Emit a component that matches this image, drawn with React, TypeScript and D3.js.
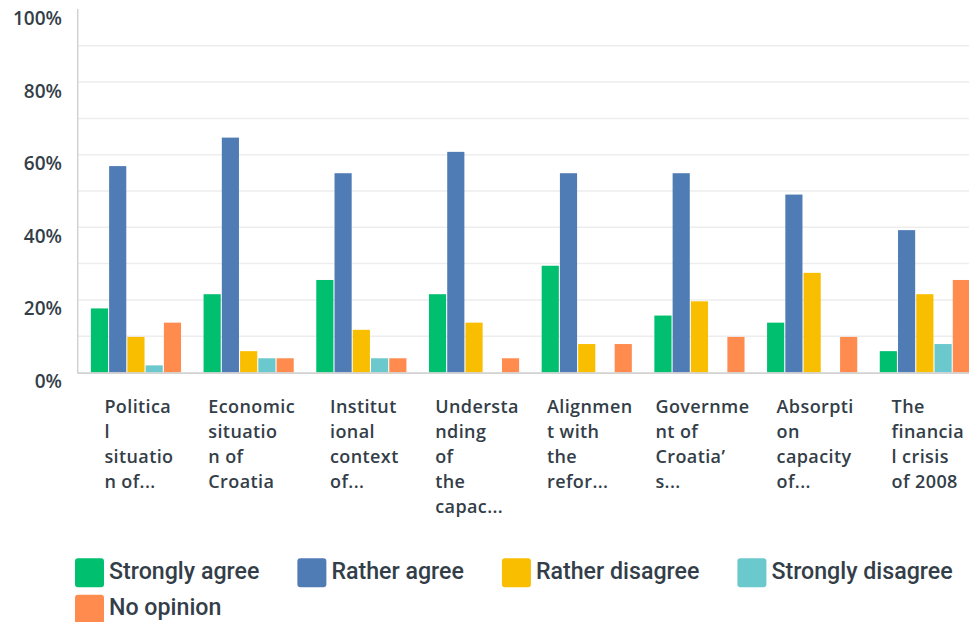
import React, { useEffect, useRef } from "react";
import * as d3 from "d3";

const categoryLines: string[][] = [
  ["Politica", "l", "situatio", "n of..."],
  ["Economic", "situatio", "n of", "Croatia"],
  ["Institut", "ional", "context", "of..."],
  ["Understa", "nding", "of", "the", "capac..."],
  ["Alignmen", "t with", "the", "refor..."],
  ["Governme", "nt of", "Croatia’", "s..."],
  ["Absorpti", "on", "capacity", "of..."],
  ["The", "financia", "l crisis", "of 2008"],
];

const seriesNames = ["Strongly agree", "Rather agree", "Rather disagree", "Strongly disagree", "No opinion"];
const seriesColors = ["#00bf6f", "#507cb6", "#f9be00", "#6bc8cd", "#ff8b4f"];

const stronglyAgree = [17.65, 21.57, 25.49, 21.57, 29.41, 15.69, 13.73, 5.88];
const ratherAgree = [56.86, 64.71, 54.9, 60.78, 54.9, 54.9, 49.02, 39.22];
const ratherDisagree = [9.8, 5.88, 11.76, 13.73, 7.84, 19.61, 27.45, 21.57];
const stronglyDisagree = [1.96, 3.92, 3.92, 0, 0, 0, 0, 7.84];
const noOpinion = [13.73, 3.92, 3.92, 3.92, 7.84, 9.8, 9.8, 25.49];

const seriesValues = [stronglyAgree, ratherAgree, ratherDisagree, stronglyDisagree, noOpinion];

const yTicks = [0, 20, 40, 60, 80, 100];
const gridTicks = [10, 20, 30, 40, 50, 60, 70, 80, 90];

const W = 969;
const H = 622;
const TEXT = "#333e48";

export default function App() {
  const ref = useRef<SVGSVGElement | null>(null);

  useEffect(() => {
    const svg = d3.select(ref.current);
    svg.selectAll("*").remove();

    const left = 77.7;
    const y = d3.scaleLinear().domain([0, 100]).range([372.5, 9.5]);
    const idx = categoryLines.map((_, i) => i);
    const x0 = d3.scaleBand<number>().domain(idx).range([79.6, 981.2]).paddingInner(0.2).paddingOuter(0.1);
    const x1 = d3.scaleBand<number>().domain(seriesNames.map((_, i) => i)).range([0, x0.bandwidth()]).paddingInner(0.06);

    svg.append("g")
      .selectAll("line")
      .data(gridTicks)
      .join("line")
      .attr("x1", left)
      .attr("x2", W)
      .attr("y1", (d) => y(d))
      .attr("y2", (d) => y(d))
      .attr("stroke", "#ededed")
      .attr("stroke-width", 1.5);

    const groups = svg.append("g")
      .selectAll("g")
      .data(idx)
      .join("g")
      .attr("transform", (i) => `translate(${x0(i)},0)`);

    groups.selectAll("rect")
      .data((i) => seriesValues.map((vals, s) => ({ s, v: vals[i] })))
      .join("rect")
      .attr("x", (d) => x1(d.s)!)
      .attr("width", x1.bandwidth())
      .attr("y", (d) => y(d.v))
      .attr("height", (d) => y(0) - y(d.v))
      .attr("fill", (d) => seriesColors[d.s]);

    svg.append("line")
      .attr("x1", left).attr("x2", left)
      .attr("y1", 9).attr("y2", 373.5)
      .attr("stroke", "#d2d2d2").attr("stroke-width", 1.5);
    svg.append("line")
      .attr("x1", left).attr("x2", W)
      .attr("y1", 373.2).attr("y2", 373.2)
      .attr("stroke", "#d2d2d2").attr("stroke-width", 1.8);

    svg.append("g")
      .selectAll("text")
      .data(yTicks)
      .join("text")
      .attr("x", 62)
      .attr("y", (d) => y(d) + 15.5)
      .attr("text-anchor", "end")
      .attr("font-family", "'Open Sans', sans-serif")
      .attr("font-weight", 600)
      .attr("font-size", 19)
      .attr("fill", TEXT)
      .text((d) => `${d}%`);

    idx.forEach((i) => {
      const g = svg.append("g");
      const texts = g.selectAll("text")
        .data(categoryLines[i])
        .join("text")
        .attr("x", 0)
        .attr("y", (_, k) => 413 + k * 25)
        .attr("font-family", "'Open Sans', sans-serif")
        .attr("font-weight", 600)
        .attr("font-size", 18)
        .attr("letter-spacing", 0.4)
        .attr("fill", TEXT)
        .text((d) => d);
      let maxW = 0;
      texts.each(function () {
        maxW = Math.max(maxW, (this as SVGTextElement).getComputedTextLength());
      });
      const cx = x0(i)! + x0.bandwidth() / 2 + 3;
      g.attr("transform", `translate(${cx - maxW / 2},0)`);
    });

    const lg = svg.append("g");
    let lx = 75;
    let ly = 558.3;
    seriesNames.forEach((name, s) => {
      const item = lg.append("g");
      item.append("rect")
        .attr("width", 29).attr("height", 29).attr("rx", 3)
        .attr("fill", seriesColors[s]);
      const t = item.append("text")
        .attr("x", 34)
        .attr("y", 20.5)
        .attr("font-family", "Roboto, sans-serif")
        .attr("font-weight", 500)
        .attr("font-size", 23.2)
        .attr("fill", TEXT)
        .text(name);
      const tw = (t.node() as SVGTextElement).getComputedTextLength();
      const itemW = 34 + tw;
      if (lx + itemW > W - 2 && lx > 75) {
        lx = 75;
        ly += 36.5;
      }
      item.attr("transform", `translate(${lx},${ly})`);
      lx += itemW + 38;
    });
  }, []);

  return (
    <svg ref={ref} width={W} height={H} style={{ display: "block", position: "absolute", left: 0, top: 0 }} />
  );
}
